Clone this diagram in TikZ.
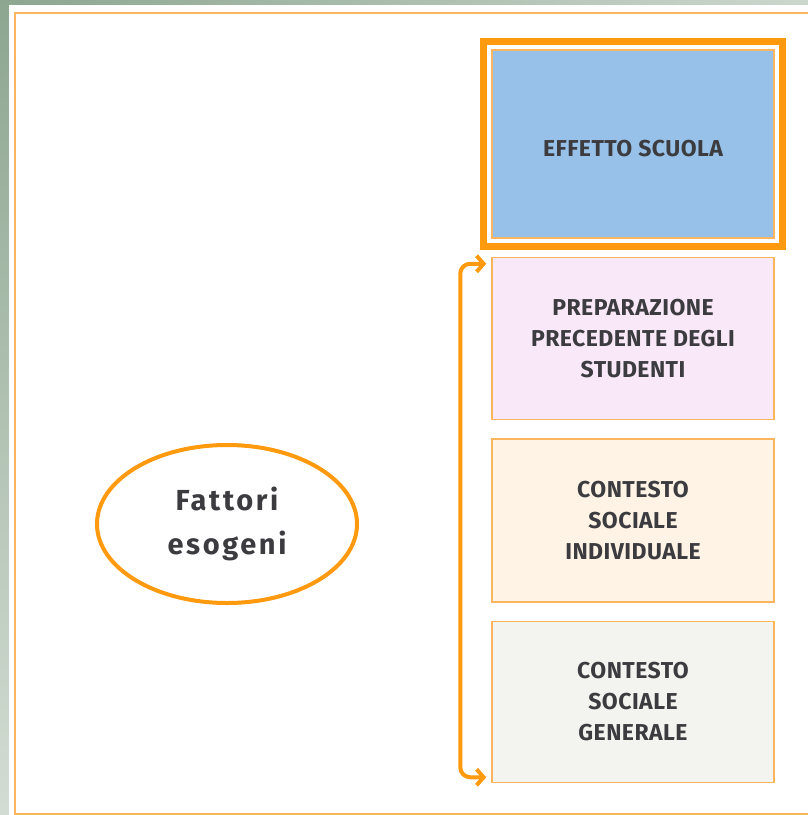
\documentclass[tikz,border=0pt]{standalone}
\usepackage{fontspec}
\setmainfont{Fira Sans}
\newfontfamily\testobox[LetterSpace=2]{Fira Sans}
\newfontfamily\testolargo[LetterSpace=9]{Fira Sans}
\usepackage{tikz}
\usetikzlibrary{positioning}
\usetikzlibrary{fit}
\usetikzlibrary{shadings}
\usetikzlibrary{shapes.geometric}
\usetikzlibrary{arrows.meta}
\definecolor{arancio}{HTML}{FF9A0E}
\definecolor{bordo}{HTML}{FBB55F}
\definecolor{testo}{HTML}{3C3C40}
\definecolor{sfondoA}{HTML}{8CA690}
\definecolor{sfondoB}{HTML}{D3DCD3}
\definecolor{blu}{HTML}{97C1E9}
\definecolor{rosa}{HTML}{F8E8F8}
\definecolor{crema}{HTML}{FEF3E4}
\definecolor{grigio}{HTML}{F3F3EF}
\tikzset{
  fattore/.style={draw=bordo,line width=1.5pt,minimum width=282pt,inner sep=0pt,
    align=center,text=testo,font=\testobox\bfseries\fontsize{23}{31}\selectfont},
  cornice/.style={draw=arancio,line width=7pt,inner sep=8pt},
  parentesi/.style={draw=arancio,line width=4pt,rounded corners=10pt,
    {Straight Barb[length=7pt,width=16pt]}-{Straight Barb[length=7pt,width=16pt]},shorten <=5pt,shorten >=5pt},
}

\begin{document}
\begin{tikzpicture}[x=1pt,y=-1pt]
		\useasboundingbox (0,0) rectangle (808,815);
		\shade[upper left=sfondoA,upper right=sfondoB!90!sfondoA,lower left=sfondoB,lower right=white] (0,0) rectangle (808,815);
		\fill[white] (9,5) rectangle (808,815);
		\draw[bordo,line width=2pt] (812,13) -- (15,13) -- (15,814) -- (812,814);
		% colonna dei fattori
		\node[fattore,fill=blu,minimum height=188pt,text height=25pt] (scuola) at (633,144) {EFFETTO SCUOLA};
		\node[fattore,fill=rosa,minimum height=162pt,below=18pt of scuola] (prep) {PREPARAZIONE\\PRECEDENTE DEGLI\\STUDENTI};
		\node[fattore,fill=crema,minimum height=163pt,below=18pt of prep] (indiv) {CONTESTO\\SOCIALE\\INDIVIDUALE};
		\node[fattore,fill=grigio,minimum height=161pt,below=18pt of indiv] (gen) {CONTESTO\\SOCIALE\\GENERALE};
		\node[cornice,fit=(scuola)] (cornice) {};
		\node[ellipse,draw=arancio,line width=4pt,minimum width=260pt,minimum height=158pt,inner sep=0pt,
		  align=center,text=testo,font=\testolargo\bfseries\fontsize{29}{44}\selectfont] (esogeni) at (227,524) {Fattori\\esogeni};
		\draw[parentesi] ([yshift=-7pt]prep.north west) -- ++(-31,0) |- ([yshift=6pt]gen.south west);
	\end{tikzpicture}
\end{document}
